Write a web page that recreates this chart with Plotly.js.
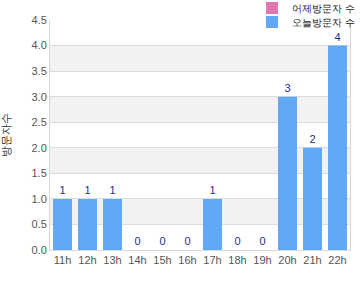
<!DOCTYPE html>
<html><head><meta charset="utf-8">
<script src="https://cdn.plot.ly/plotly-3.0.1.min.js"></script>
<style>html,body{margin:0;padding:0;background:#fff}#c{width:360px;height:300px}</style>
</head><body><div id="c"></div>
<script>
const hours = ["11h","12h","13h","14h","15h","16h","17h","18h","19h","20h","21h","22h"];
const seriesA = [0,0,0,0,0,0,0,0,0,0,0,0];
const seriesB = [1,1,1,0,0,0,1,0,0,3,2,4];
const seriesNames = ["어제방문자 수","오늘방문자 수"];
const yTitle = "방문자수";

const bands = [];
for (let v = 0.5; v < 4.5; v += 1) {
  bands.push({type:"rect", xref:"paper", yref:"y", x0:0, x1:1, y0:v, y1:v+0.5,
    fillcolor:"#f2f2f2", line:{width:0}, layer:"below"});
}

const traces = [
  {type:"bar", name:seriesNames[0], x:hours, y:seriesA, legend:"legend",
   marker:{color:"#e377b0", line:{width:0}}, hoverinfo:"skip"},
  {type:"bar", name:seriesNames[1], x:hours, y:seriesB, legend:"legend2",
   marker:{color:"#61a8f5", line:{width:0}},
   text:seriesB.map(String), textposition:"outside", cliponaxis:false,
   textfont:{family:"Arial, Liberation Sans, sans-serif", size:11, color:"#1f2a8a"}}
];
const legBase = {xref:"container", yref:"container", x:1, xanchor:"right", yanchor:"middle",
  font:{size:10, color:"#222"}, bgcolor:"rgba(255,255,255,0)", itemwidth:30};
const layout = {
  width:360, height:300,
  margin:{l:50, r:10, t:20, b:50, autoexpand:false},
  paper_bgcolor:"#fff", plot_bgcolor:"#fff",
  barmode:"overlay", bargap:0.24,
  font:{family:"Arial, Liberation Sans, sans-serif", size:11, color:"#444"},
  showlegend:true,
  legend:Object.assign({}, legBase, {y:1 - 8/300}),
  legend2:Object.assign({}, legBase, {y:1 - 22/300}),
  xaxis:{type:"category", showgrid:false, showline:true, linecolor:"#d8d8d8", linewidth:1,
    ticks:"", tickfont:{size:11, color:"#555"}, fixedrange:true},
  yaxis:{range:[0,4.5], dtick:0.5, tickformat:".1f", showgrid:true, gridcolor:"#dcdcdc",
    showline:true, linecolor:"#d8d8d8", mirror:true, zeroline:false, ticks:"",
    tickfont:{size:11, color:"#555"},
    title:{text:yTitle, font:{size:11, color:"#333"}, standoff:18}},
  shapes:bands
};
Plotly.newPlot("c", traces, layout, {displayModeBar:false, staticPlot:true});
</script></body></html>
